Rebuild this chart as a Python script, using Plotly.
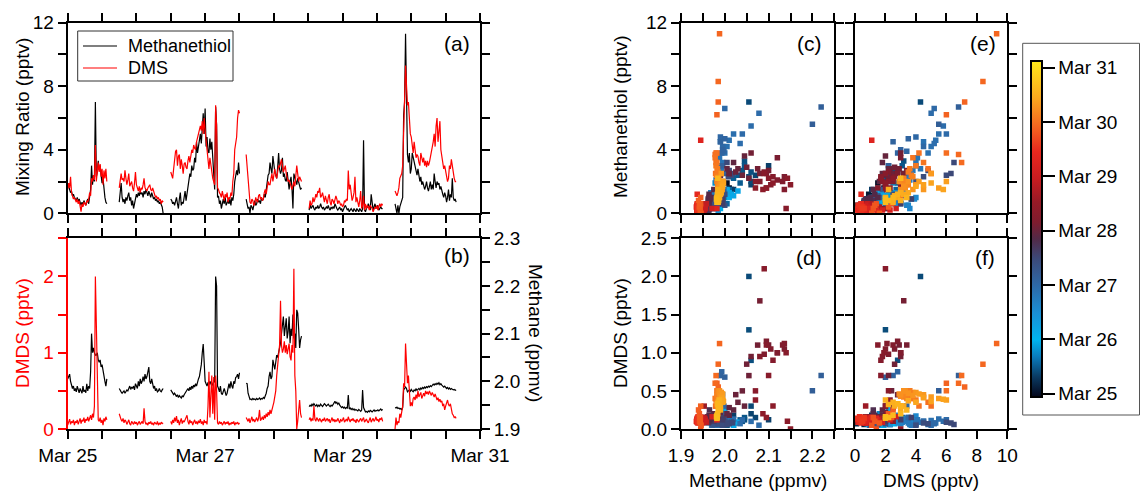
import plotly.graph_objects as go

# ---------------- data (20-min samples; None separates measurement segments) ----------------
STEP_H = 1.0 / 3.0                      # hours between samples
SEG_START_H = [0.0, 18.0, 36.0, 62.33, 84.33, 114.33]   # hours after Mar 25 00:00

MT = [  # methanethiol, pptv
    1.9, 1.6, 1.5, 1.3, 1.4, 1.1, 1.2, 1.0, 0.9, 0.8,
    1.0, 0.7, 0.9, 0.6, 0.5, 0.7, 0.5, 0.8, 0.6, 0.5,
    0.7, 0.9, 0.6, 1.1, 1.5, 3.0, 1.8, 2.4, 2.0, 7.0,
    2.3, 2.6, 3.3, 2.7, 3.0, 2.4, 1.9, 2.2, 1.5, 1.0,
    0.7, 0.6,
    None,
    0.7, 1.2, 1.9, 1.0, 0.7, 0.9, 0.6, 1.0, 0.8, 1.1,
    1.3, 0.8, 1.0, 0.5, 0.8, 0.3, 0.7, 0.9, 1.2, 1.0,
    1.3, 1.1, 1.4, 1.2, 1.3, 1.0, 1.4, 1.2, 1.5, 1.3,
    1.1, 1.4, 1.2, 1.0, 1.3, 1.1, 0.9, 1.0, 0.8, 0.9,
    0.7, 0.8, 0.6, 0.7, 0.5, 0.4, 0.0,
    None,
    0.9, 0.8, 0.6, 0.7, 0.5, 0.9, 1.0, 0.6, 0.3, 0.9,
    1.3, 0.5, 0.7, 0.6, 1.1, 1.4, 0.8, 1.2, 1.8, 2.1,
    2.5, 2.3, 3.0, 2.7, 2.8, 3.5, 3.2, 4.5, 3.8, 4.2,
    4.6, 5.0, 4.4, 5.5, 6.3, 5.0, 6.6, 4.2, 4.8, 3.9,
    3.8, 4.7, 4.0, 4.5, 3.0, 2.5, 1.5, 6.7, 5.6, 1.0,
    1.1, 0.6, 0.8, 0.3, 0.6, 0.9, 0.6, 1.0, 0.5, 0.7,
    0.8, 0.6, 0.9, 0.5, 1.0, 0.8, 1.2, 2.0, 2.3, 2.7,
    2.4, 3.2, 2.5,
    None,
    0.9, 0.6, 0.3, 0.4, 0.0, 0.5, 0.4, 0.2, 0.6, 0.8,
    0.5, 0.6, 0.9, 0.7, 0.8, 0.6, 1.0, 0.8, 0.9, 1.2,
    1.0, 1.5, 2.0, 2.4, 2.5, 3.2, 2.8, 2.5, 3.6, 2.8,
    2.6, 2.4, 2.2, 2.9, 3.8, 2.8, 2.5, 2.7, 3.5, 2.3,
    2.5, 2.1, 2.0, 2.6, 1.8, 1.5, 2.0, 2.3, 1.6, 0.3,
    2.5, 2.2, 2.0, 1.8, 2.2, 1.9, 1.6, 1.5, 1.6,
    None,
    0.2, 0.6, 0.3, 0.4, 0.5, 0.3, 0.2, 0.4, 0.3, 0.5,
    0.3, 0.4, 0.6, 0.4, 0.3, 0.4, 0.2, 0.3, 0.4, 0.3,
    0.5, 0.3, 0.2, 0.4, 0.3, 0.4, 0.3, 0.6, 0.4, 0.3,
    0.2, 0.3, 0.4, 0.2, 0.3, 0.1, 0.3, 0.4, 0.5, 0.3,
    0.2, 0.3, 0.1, 0.2, 0.3, 0.2, 0.1, 0.3, 0.2, 0.1,
    0.3, 0.2, 0.1, 0.3, 0.2, 0.1, 0.3, 4.6, 0.2, 0.1,
    0.3, 0.4, 0.6, 0.3, 0.2, 1.2, 0.5, 0.2, 0.4, 0.6,
    0.3, 0.4, 0.5, 0.2, 0.3, 0.4, 0.3, 0.3,
    None,
    0.6, 0.3, 0.0, 0.5, 0.0, 0.4, 0.6, 0.8, 1.0, 6.2,
    7.0, 11.3, 8.3, 3.7, 3.2, 3.8, 2.5, 2.8, 3.8, 3.5,
    3.2, 3.0, 2.6, 2.4, 2.8, 2.2, 2.0, 2.3, 1.8, 2.0,
    1.8, 1.5, 1.7, 2.0, 1.6, 1.4, 1.7, 2.0, 1.5, 1.8,
    1.5, 2.5, 2.0, 1.6, 2.0, 1.8, 1.9, 1.5, 1.7, 1.3,
    1.2, 1.0, 1.3, 1.1, 0.7, 1.0, 1.5, 0.8, 1.2, 1.0,
    2.2, 1.0, 0.8, 0.9, 0.7,
]

DMS = [  # dimethyl sulfide, pptv
    1.5, 1.9, 1.6, 2.3, 1.3, 1.1, 0.9, 1.0, 0.8, 0.7,
    0.9, 0.6, 0.8, 0.5, 0.1, 0.6, 0.4, 0.7, 0.6, 0.5,
    0.8, 0.7, 0.9, 1.3, 1.1, 2.2, 2.0, 2.4, 2.1, 4.3,
    2.0, 2.8, 3.2, 2.6, 3.1, 2.3, 2.8, 1.8, 2.7, 2.2,
    2.8, 2.0,
    None,
    1.6, 2.3, 2.5, 2.1, 2.2, 2.0, 2.7, 2.2, 1.8, 2.1,
    2.5, 1.7, 1.9, 2.0, 1.6, 1.4, 1.9, 2.6, 1.8, 1.6,
    1.4, 1.7, 1.3, 1.6, 1.5, 1.8, 2.2, 1.6, 1.5, 1.4,
    1.6, 1.7, 1.8, 1.5, 1.4, 1.6, 1.3, 1.2, 1.0, 1.1,
    0.9, 1.0, 0.8, 0.9, 0.6, 0.8, 0.7,
    None,
    2.6, 2.3, 2.2, 2.8, 3.5, 3.9, 4.0, 3.0, 3.6, 3.7,
    2.8, 3.4, 3.0, 2.5, 3.1, 3.2, 2.9, 2.8, 3.3, 3.6,
    3.2, 3.5, 4.0, 3.8, 4.3, 4.1, 4.0, 4.5, 4.8, 5.0,
    5.3, 5.5, 5.2, 5.8, 5.0, 6.0, 5.2, 4.5, 4.0, 3.4,
    2.8, 3.5, 3.0, 2.5, 2.2, 2.0, 1.8, 6.8, 5.5, 1.6,
    1.5, 1.3, 1.2, 1.0, 1.4, 1.1, 0.8, 1.2, 1.0, 1.3,
    0.7, 1.0, 0.9, 1.3, 1.1, 2.0, 2.5, 4.0, 4.5, 4.8,
    6.0, 6.5, 6.3,
    None,
    3.7, 3.0, 2.0, 1.2, 0.7, 0.6, 0.9, 0.8, 0.5, 0.6,
    1.0, 0.8, 0.7, 1.1, 1.2, 0.9, 1.0, 0.8, 0.9, 1.3,
    1.5, 1.2, 1.6, 2.0, 1.8, 1.8, 2.2, 2.5, 2.0, 2.3,
    2.8, 2.4, 2.2, 2.6, 3.0, 2.9, 3.2, 3.4, 3.0, 2.6,
    2.8, 3.0, 2.5, 2.2, 2.0, 2.1, 1.8, 1.7, 1.5, 1.9,
    2.0, 1.7, 2.2, 3.0, 2.5, 2.0, 2.3, 2.1, 2.0,
    None,
    0.3, 0.8, 0.5, 0.6, 1.0, 0.7, 0.9, 1.2, 1.0, 1.4,
    1.3, 1.6, 1.0, 1.1, 1.3, 0.9, 0.7, 1.1, 0.8, 0.6,
    1.0, 1.2, 0.7, 0.5, 0.9, 0.8, 0.6, 0.8, 1.1, 0.9,
    0.6, 0.8, 0.7, 0.5, 0.6, 0.4, 0.5, 0.8, 0.7, 0.9,
    0.8, 2.7, 1.5, 1.8, 1.2, 0.8, 1.0, 1.3, 2.3, 0.7,
    1.0, 0.6, 0.4, 0.8, 1.4, 0.3, 0.5, 1.1, 0.2, 0.6,
    0.3, 0.5, 0.4, 0.2, 0.5, 0.4, 0.3, 0.1, 0.3, 0.4,
    0.3, 0.5, 0.2, 0.4, 0.6, 0.4, 0.6, 0.5,
    None,
    1.4, 1.2, 1.1, 1.3, 1.6, 2.2, 2.4, 2.5, 3.0, 6.0,
    7.2, 9.3, 8.4, 6.8, 7.0, 6.0, 5.0, 4.8, 4.2, 3.8,
    4.5, 4.0, 3.5, 3.7, 3.6, 3.2, 3.0, 3.8, 3.4, 3.2,
    3.5, 3.0, 3.3, 2.9, 3.3, 3.0, 3.2, 3.5, 3.8, 4.0,
    4.5, 5.0, 4.2, 5.5, 6.0, 4.5, 5.0, 5.8, 4.0, 3.5,
    3.2, 2.8, 3.0, 2.6, 2.5, 2.0, 2.2, 3.0, 2.8, 3.4,
    3.0, 2.5, 2.2, 2.0, 2.0,
]

DMDS = [  # dimethyl disulfide, pptv
    0.05, 0.1, 0.13, 0.06, 0.1, 0.08, 0.12, 0.05, 0.1, 0.08,
    0.12, 0.06, 0.1, 0.14, 0.07, 0.12, 0.1, 0.15, 0.08, 0.13,
    0.11, 0.16, 0.1, 0.14, 0.18, 0.12, 0.2, 0.15, 0.3, 2.0,
    1.3, 0.9, 0.12, 0.1, 0.15, 0.08, 0.12, 0.05, 0.14, 0.1,
    0.16, 0.12,
    None,
    0.2, 0.15, 0.12, 0.1, 0.14, 0.08, 0.12, 0.1, 0.06, 0.09,
    0.12, 0.07, 0.05, 0.1, 0.08, 0.06, 0.1, 0.07, 0.09, 0.05,
    0.08, 0.1, 0.06, 0.08, 0.1, 0.07, 0.27, 0.1, 0.06, 0.08,
    0.05, 0.09, 0.07, 0.1, 0.06, 0.08, 0.05, 0.09, 0.07, 0.06,
    0.1, 0.05, 0.08, 0.06, 0.09, 0.07, 0.08,
    None,
    0.1, 0.06, 0.12, 0.08, 0.15, 0.1, 0.17, 0.08, 0.12, 0.05,
    0.1, 0.14, 0.07, 0.11, 0.09, 0.13, 0.16, 0.18, 0.1, 0.06,
    0.12, 0.08, 0.1, 0.05, 0.09, 0.12, 0.07, 0.1, 0.06, 0.11,
    0.08, 0.13, 0.07, 0.1, 0.05, 0.12, 0.08, 0.1, 0.06, 0.3,
    0.75, 0.15, 0.45, 0.7, 0.2, 0.68, 0.12, 0.7, 0.5, 0.08,
    0.06, 0.1, 0.07, 0.09, 0.05, 0.08, 0.1, 0.06, 0.09, 0.07,
    0.1, 0.05, 0.08, 0.06, 0.09, 0.07, 0.1, 0.05, 0.08, 0.07,
    0.09, 0.06, 0.08,
    None,
    0.15, 0.12, 0.1, 0.14, 0.08, 0.12, 0.16, 0.1, 0.13, 0.09,
    0.12, 0.15, 0.1, 0.14, 0.25, 0.11, 0.13, 0.16, 0.12, 0.18,
    0.14, 0.2, 0.16, 0.22, 0.18, 0.25, 0.2, 0.28, 0.3, 0.35,
    0.45, 0.5, 0.7, 0.85, 0.95, 1.1, 1.68, 1.1, 1.0, 1.05,
    1.15, 1.0, 1.1, 0.98, 1.05, 1.12, 0.95, 0.9, 1.1, 1.0,
    2.1, 0.7, 0.5, 0.0, 0.1, 0.3, 0.38, 0.2, 0.15,
    None,
    0.12, 0.15, 0.1, 0.14, 0.11, 0.3, 0.13, 0.1, 0.15, 0.12,
    0.1, 0.14, 0.12, 0.09, 0.13, 0.11, 0.15, 0.1, 0.12, 0.14,
    0.1, 0.13, 0.08, 0.12, 0.15, 0.1, 0.13, 0.09, 0.12, 0.1,
    0.14, 0.11, 0.08, 0.13, 0.1, 0.12, 0.15, 0.09, 0.11, 0.13,
    0.1, 0.16, 0.12, 0.09, 0.13, 0.11, 0.14, 0.1, 0.12, 0.08,
    0.13, 0.11, 0.09, 0.12, 0.14, 0.1, 0.12, 0.15, 0.09, 0.11,
    0.13, 0.1, 0.08, 0.12, 0.15, 0.09, 0.11, 0.14, 0.1, 0.12,
    0.16, 0.11, 0.13, 0.09, 0.14, 0.12, 0.15, 0.1,
    None,
    0.0, 0.15, 0.05, 0.1, 0.08, 0.2, 0.15, 0.25, 0.3, 0.6,
    0.55, 1.12, 0.85, 0.6, 0.7, 0.5, 0.3, 0.35, 0.3, 0.4,
    0.42, 0.38, 0.45, 0.4, 0.5, 0.42, 0.45, 0.48, 0.4, 0.44,
    0.47, 0.43, 0.5, 0.46, 0.49, 0.45, 0.5, 0.47, 0.44, 0.48,
    0.45, 0.42, 0.46, 0.4, 0.38, 0.41, 0.36, 0.39, 0.35, 0.37,
    0.3, 0.33, 0.25, 0.3, 0.35, 0.38, 0.32, 0.3, 0.33, 0.25,
    0.2, 0.18, 0.15, 0.16, 0.14,
]

CH4 = [  # methane, ppmv
    2.005, 2.01, 2.015, 2.0, 1.99, 1.985, 1.99, 1.98, 1.985, 1.978,
    1.99, 1.982, 1.976, 1.985, 1.98, 1.975, 1.99, 1.978, 1.982, 1.976,
    1.995, 1.98, 1.99, 1.985, 2.02, 2.1, 2.06, 2.07, 2.06, 2.055,
    2.055, 2.06, 2.045, 2.04, 2.045, 2.03, 2.035, 2.02, 2.01, 2.0,
    1.99, 2.005,
    None,
    1.985, 1.98, 1.978, 1.975, 1.977, 1.98, 1.975, 1.978, 1.982, 1.98,
    1.985, 1.99, 1.983, 1.988, 1.985, 1.99, 1.982, 1.995, 1.99, 1.985,
    2.0, 1.99, 2.005, 1.995, 2.0, 2.01, 2.0, 2.015, 2.005, 2.01,
    2.02, 2.03, 2.0, 1.995, 2.005, 1.99, 1.985, 1.99, 1.98, 1.985,
    1.978, 1.98, 1.985, 1.98, 1.978, 1.982, 1.985,
    None,
    1.982, 1.978, 1.975, 1.972, 1.975, 1.97, 1.968, 1.972, 1.966, 1.97,
    1.968, 1.965, 1.97, 1.967, 1.972, 1.975, 1.978, 1.98, 1.985, 1.98,
    1.988, 1.982, 1.99, 1.985, 1.992, 1.988, 1.995, 1.99, 2.0, 2.005,
    2.01, 2.02, 2.035, 2.06, 2.078, 2.04, 2.0, 1.995, 1.99, 1.998,
    1.993, 2.0, 1.995, 1.99, 1.995, 2.0, 1.998, 2.22, 2.2, 1.99,
    1.985, 1.978, 1.99, 1.975, 1.972, 1.98, 1.985, 1.978, 1.97, 1.975,
    1.99, 1.995, 1.985, 2.0, 1.99, 1.985, 2.0, 1.995, 2.008, 2.01,
    2.015, 2.005, 2.018,
    None,
    1.996, 1.995, 1.975, 1.965, 1.962, 1.963, 1.961, 1.964, 1.962, 1.963,
    1.961, 1.964, 1.962, 1.963, 1.965, 1.962, 1.964, 1.963, 1.966, 1.964,
    1.968, 1.975, 1.985, 1.99, 2.01, 2.02, 2.005, 2.01, 2.045, 2.03,
    2.025, 2.04, 2.055, 2.05, 2.06, 2.075, 2.08, 2.1, 2.12, 2.136,
    2.095, 2.12, 2.132, 2.09, 2.105, 2.136, 2.08, 2.11, 2.095, 2.14,
    2.09, 2.1, 2.07, 2.15, 2.143, 2.11, 2.07, 2.087, 2.095,
    None,
    1.947, 1.95, 1.948, 1.952, 1.949, 1.953, 1.95, 1.948, 1.951, 1.947,
    1.95, 1.948, 1.952, 1.949, 1.947, 1.95, 1.953, 1.951, 1.948, 1.95,
    1.952, 1.949, 1.947, 1.95, 1.948, 1.951, 1.955, 1.958, 1.954, 1.956,
    1.952, 1.955, 1.95, 1.948, 1.945, 1.947, 1.944, 1.946, 1.943, 1.945,
    1.944, 1.971, 1.942, 1.944, 1.941, 1.943, 1.94, 1.942, 1.939, 1.941,
    1.94, 1.938, 1.941, 1.939, 1.937, 1.94, 1.982, 1.945, 1.938, 1.936,
    1.937, 1.935, 1.938, 1.936, 1.939, 1.937, 1.936, 1.938, 1.94, 1.937,
    1.939, 1.938, 1.94, 1.938, 1.94, 1.942, 1.939, 1.941,
    None,
    1.945, 1.944, 1.946, 1.943, 1.944, 1.942, 1.943, 1.94, 1.945, 1.982,
    1.985, 1.988, 1.985, 1.978, 1.98, 1.982, 1.979, 1.983, 1.98, 1.978,
    1.982, 1.98, 1.984, 1.981, 1.983, 1.985, 1.982, 1.986, 1.984, 1.987,
    1.985, 1.988, 1.986, 1.989, 1.987, 1.99, 1.988, 1.991, 1.989, 1.992,
    1.994, 1.992, 1.995, 1.993, 1.996, 1.994, 1.997, 1.993, 1.995, 1.992,
    1.99, 1.988, 1.99, 1.987, 1.985, 1.987, 1.984, 1.986, 1.983, 1.985,
    1.984, 1.982, 1.983, 1.981, 1.982,
]

DAY_TICK_H = [0, 24, 48, 72, 96, 120, 144]
DAY_LABELS = ["Mar 25", "Mar 26", "Mar 27", "Mar 28", "Mar 29", "Mar 30", "Mar 31"]

# ---------------- derived time axis ----------------
def times_for(series):
    out, seg, i = [], 0, 0
    for v in series:
        if v is None:
            out.append(None)
            seg += 1
            i = 0
        else:
            out.append(SEG_START_H[seg] + i * STEP_H)
            i += 1
    return out

T = times_for(MT)
idx = [k for k, v in enumerate(MT) if v is not None]
T_s = [T[k] for k in idx]
MT_s = [MT[k] for k in idx]
DMS_s = [DMS[k] for k in idx]
DMDS_s = [DMDS[k] for k in idx]
CH4_s = [CH4[k] for k in idx]

# ---------------- geometry helpers (pixels -> paper) ----------------
W, H = 1140, 492
def fx(p): return p / W
def fy(p): return 1 - p / H

FONT = "Liberation Sans, Arial, sans-serif"
TF = 19

COLORSCALE = [
    [0.00, "#04061a"], [0.06, "#0a3a62"], [0.12, "#0a7cbc"], [0.17, "#00b4ee"],
    [0.25, "#1a8fd6"], [0.33, "#2d6aa8"], [0.41, "#3b4a7a"], [0.47, "#522a48"],
    [0.52, "#7e1c2e"], [0.58, "#961a26"], [0.65, "#c81c20"], [0.73, "#e8281e"],
    [0.81, "#f56a20"], [0.89, "#fba81e"], [0.95, "#fdcc1c"], [1.00, "#ffe81a"],
]
CMIN, CMAX = -1.4, 147.0

fig = go.Figure()

# (a) time series
fig.add_trace(go.Scatter(x=T, y=MT, mode="lines", name="Methanethiol",
                         line=dict(color="black", width=1.2), xaxis="x", yaxis="y"))
fig.add_trace(go.Scatter(x=T, y=DMS, mode="lines", name="DMS",
                         line=dict(color="#ff0000", width=1.2), xaxis="x", yaxis="y"))
# (b) methane (right) and DMDS (left, drawn on top)
fig.add_trace(go.Scatter(x=T, y=CH4, mode="lines",
                         line=dict(color="black", width=1.2), xaxis="x2", yaxis="y2"))
fig.add_trace(go.Scatter(x=T, y=DMDS, mode="lines",
                         line=dict(color="#ff0000", width=1.2), xaxis="x2", yaxis="y3"))

def scat(xv, yv, xa, ya, show=False):
    m = dict(symbol="square", size=5.5, color=T_s, colorscale=COLORSCALE,
             cmin=CMIN, cmax=CMAX, line=dict(width=0))
    if show:
        m["showscale"] = True
        m["colorbar"] = dict(
            x=fx(1031), xanchor="left", xpad=0, y=fy(229), yanchor="middle", ypad=0,
            len=336, lenmode="pixels", thickness=11, thicknessmode="pixels",
            outlinewidth=2, outlinecolor="black",
            tickmode="array", tickvals=DAY_TICK_H, ticktext=DAY_LABELS,
            ticks="outside", ticklen=12, tickwidth=2, tickcolor="black",
            tickfont=dict(size=TF, family=FONT, color="black"))
    fig.add_trace(go.Scatter(x=xv, y=yv, mode="markers", marker=m,
                             xaxis=xa, yaxis=ya))

scat(CH4_s, MT_s, "x3", "y4", show=True)
scat(CH4_s, DMDS_s, "x4", "y5")
scat(DMS_s, MT_s, "x5", "y6")
scat(DMS_s, DMDS_s, "x6", "y7")

base = dict(showline=True, linewidth=2, linecolor="black", ticks="outside", ticklen=8,
            tickwidth=2, tickcolor="black", showgrid=False, zeroline=False,
            tickfont=dict(size=TF, family=FONT, color="black"), mirror="allticks")

TOP = [fy(213.3), fy(22.7)]
BOT = [fy(429.0), fy(238.3)]
LEFT = [fx(67.7), fx(480)]
C_X = [fx(681), fx(834.3)]
E_X = [fx(855), fx(1007.3)]

time_ticks = list(range(0, 145, 12))
time_text = [("Mar %d" % (25 + v // 24)) if v % 48 == 0 else "" for v in time_ticks]

ch4_ticks = [1.9, 1.95, 2.0, 2.05, 2.1, 2.15, 2.2, 2.25]
ch4_text = ["1.9", "", "2.0", "", "2.1", "", "2.2", ""]

fig.update_layout(
    width=W, height=H, margin=dict(l=0, r=0, t=0, b=0, autoexpand=False),
    paper_bgcolor="white", plot_bgcolor="white", showlegend=False,
    font=dict(family=FONT, size=TF, color="black"),
    xaxis=dict(base, domain=LEFT, anchor="y", range=[0, 144], tickmode="array",
               tickvals=time_ticks, showticklabels=False),
    yaxis=dict(base, domain=TOP, anchor="x", range=[0, 12], tickmode="array",
               tickvals=[0, 2, 4, 6, 8, 10, 12], ticktext=["0", "", "4", "", "8", "", "12"]),
    xaxis2=dict(base, domain=LEFT, anchor="y2", range=[0, 144], tickmode="array",
                tickvals=time_ticks, ticktext=time_text),
    yaxis2=dict(base, domain=BOT, anchor="x2", side="right", mirror=False, range=[1.9, 2.3],
                tickmode="array", tickvals=[1.9, 1.95, 2.0, 2.05, 2.1, 2.15, 2.2, 2.25, 2.3],
                ticktext=["1.9", "", "2.0", "", "2.1", "", "2.2", "", "2.3"]),
    yaxis3=dict(base, overlaying="y2", anchor="x2", side="left", mirror=False, range=[0, 2.5],
                linecolor="#ff0000", tickcolor="#ff0000",
                tickfont=dict(size=TF, family=FONT, color="#ff0000"),
                tickmode="array", tickvals=[0, 0.5, 1, 1.5, 2, 2.5],
                ticktext=["0", "", "1", "", "2", ""]),
    xaxis3=dict(base, domain=C_X, anchor="y4", range=[1.9, 2.25], tickmode="array",
                tickvals=ch4_ticks, showticklabels=False),
    yaxis4=dict(base, domain=TOP, anchor="x3", range=[0, 12], tickmode="array",
                tickvals=[0, 2, 4, 6, 8, 10, 12], ticktext=["0", "", "4", "", "8", "", "12"]),
    xaxis4=dict(base, domain=C_X, anchor="y5", range=[1.9, 2.25], tickmode="array",
                tickvals=ch4_ticks, ticktext=ch4_text),
    yaxis5=dict(base, domain=BOT, anchor="x4", range=[0, 2.5], tickmode="array",
                tickvals=[0, 0.5, 1.0, 1.5, 2.0, 2.5],
                ticktext=["0.0", "0.5", "1.0", "1.5", "2.0", "2.5"]),
    xaxis5=dict(base, domain=E_X, anchor="y6", range=[0, 10], tickmode="array",
                tickvals=[0, 2, 4, 6, 8, 10], showticklabels=False),
    yaxis6=dict(base, domain=TOP, anchor="x5", range=[0, 12], tickmode="array",
                tickvals=[0, 2, 4, 6, 8, 10, 12], showticklabels=False),
    xaxis6=dict(base, domain=E_X, anchor="y7", range=[0, 10], tickmode="array",
                tickvals=[0, 2, 4, 6, 8, 10], ticktext=["0", "2", "4", "6", "8", "10"]),
    yaxis7=dict(base, domain=BOT, anchor="x6", range=[0, 2.5], tickmode="array",
                tickvals=[0, 0.5, 1.0, 1.5, 2.0, 2.5], showticklabels=False),
)

def ann(text, x, y, angle=0, size=TF, color="black", xanchor="center"):
    fig.add_annotation(text=text, x=fx(x), y=fy(y), xref="paper", yref="paper",
                       showarrow=False, textangle=angle, xanchor=xanchor, yanchor="middle",
                       font=dict(size=size, family=FONT, color=color))

ann("Mixing Ratio (pptv)", 22, 117, -90)
ann("DMDS (pptv)", 22, 333, -90, color="#ff0000")
ann("Methane (ppmv)", 536, 333, 90)
ann("Methanethiol (pptv)", 620, 117, -90)
ann("DMDS (pptv)", 620, 333, -90)
ann("Methane (ppmv)", 758, 480)
ann("DMS (pptv)", 931, 480)
for lab, x, y in [("(a)", 457, 43), ("(b)", 457, 255), ("(c)", 809, 43),
                  ("(d)", 809, 257), ("(e)", 983, 43), ("(f)", 985, 257)]:
    ann(lab, x, y, size=21)

# legend of panel (a): framed box, line samples and labels
fig.add_shape(type="rect", xref="paper", yref="paper",
              x0=fx(77.7), x1=fx(233), y0=fy(81), y1=fy(31),
              line=dict(color="#333333", width=1), fillcolor="white")
for name, col, yy in [("Methanethiol", "black", 46), ("DMS", "#ff0000", 68)]:
    fig.add_shape(type="line", xref="paper", yref="paper",
                  x0=fx(83), x1=fx(117), y0=fy(yy), y1=fy(yy),
                  line=dict(color=col, width=1.2))
    ann(name, 126, yy, size=18, xanchor="left")

# frame around the colour bar
fig.add_shape(type="rect", xref="paper", yref="paper",
              x0=fx(1022.7), x1=fx(1139.5), y0=fy(415), y1=fy(43.3),
              line=dict(color="#555555", width=1))

fig.write_html("out.html", config={"displayModeBar": False},
               post_script="document.body.style.margin='0px';")
